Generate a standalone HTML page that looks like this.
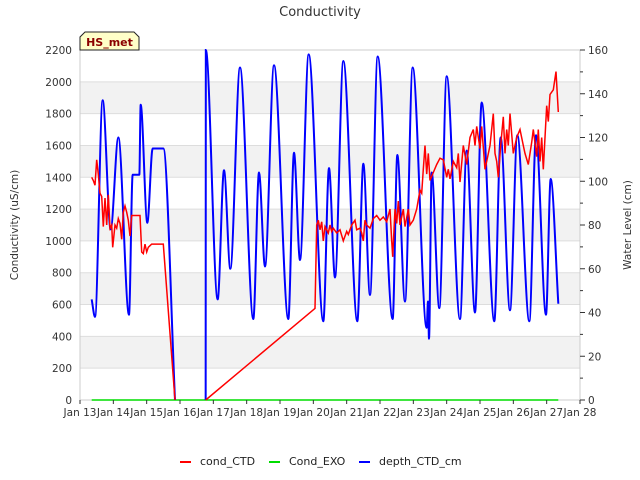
<!DOCTYPE html>
<html><head><meta charset="utf-8"><style>
body{margin:0;background:#fff;}
svg{display:block;font-family:"DejaVu Sans","Liberation Sans",sans-serif;}
</style></head><body>
<svg id="chart" width="640" height="480" viewBox="0 0 640 480">
<rect width="640" height="480" fill="#fff"/>
<g id="bands"></g><g id="grid"></g>
<rect x="80" y="50" width="500" height="350" fill="none" stroke="#ccc"/>
<g id="series"></g><g id="axes"></g>
<text x="320" y="16" text-anchor="middle" font-size="13" fill="#333">Conductivity</text>
<text transform="translate(18,225) rotate(-90)" text-anchor="middle" font-size="10.5" fill="#333">Conductivity (uS/cm)</text>
<text transform="translate(631,225) rotate(-90)" text-anchor="middle" font-size="10.5" fill="#333">Water Level (cm)</text>
<g>
<path d="M80,50 L80,37 L85,32 L134,32 L139,37 L139,50 Z" fill="#ffffc8" stroke="#222"/>
<text x="109.5" y="46" text-anchor="middle" font-size="11" font-weight="bold" fill="#8b0000">HS_met</text>
</g>
<g>
<g><line x1="180" y1="462" x2="191" y2="462" stroke="#f00" stroke-width="2"/><text x="200" y="465" font-size="11" fill="#222">cond_CTD</text></g>
<g><line x1="269" y1="462" x2="280" y2="462" stroke="#0d0" stroke-width="2"/><text x="289" y="465" font-size="11" fill="#222">Cond_EXO</text></g>
<g><line x1="359" y1="462" x2="370" y2="462" stroke="#00f" stroke-width="2"/><text x="379" y="465" font-size="11" fill="#222">depth_CTD_cm</text></g>
</g>
</svg>
<script>
const xTickLabels=["Jan 13","Jan 14","Jan 15","Jan 16","Jan 17","Jan 18","Jan 19","Jan 20","Jan 21","Jan 22","Jan 23","Jan 24","Jan 25","Jan 26","Jan 27","Jan 28"];
const leftTicks=[0,200,400,600,800,1000,1200,1400,1600,1800,2000,2200];
const rightTicks=[0,20,40,60,80,100,120,140,160];
const condDays=[0.35,0.4,0.45,0.5,0.55,0.6,0.65,0.7,0.75,0.8,0.85,0.9,0.95,0.98,1.05,1.1,1.15,1.2,1.25,1.3,1.35,1.4,1.45,1.5,1.55,1.8,1.85,1.9,1.95,2.0,2.05,2.1,2.15,2.5,2.85,3.77,7.05,7.1,7.15,7.2,7.25,7.3,7.35,7.45,7.5,7.55,7.6,7.7,7.8,7.9,8.0,8.05,8.15,8.25,8.3,8.4,8.45,8.5,8.55,8.6,8.7,8.8,8.9,9.0,9.1,9.2,9.3,9.35,9.38,9.45,9.5,9.55,9.6,9.7,9.75,9.85,9.9,10.0,10.1,10.2,10.25,10.3,10.35,10.4,10.45,10.5,10.6,10.7,10.8,10.9,11.0,11.05,11.1,11.2,11.3,11.35,11.4,11.5,11.6,11.7,11.8,11.85,11.9,12.0,12.05,12.15,12.2,12.3,12.4,12.45,12.5,12.55,12.62,12.7,12.75,12.8,12.85,12.9,13.0,13.1,13.2,13.3,13.35,13.45,13.55,13.6,13.7,13.75,13.8,13.85,13.9,14.0,14.05,14.1,14.2,14.28,14.35];
const condValues=[1400,1380,1350,1510,1420,1300,1280,1090,1270,1100,1290,1080,1100,960,1100,1080,1140,1110,1010,1180,1220,1180,1130,1030,1160,1160,930,920,980,930,960,970,980,980,0,0,576,1100,1130,1070,1120,1000,1090,1050,1100,1060,1080,1050,1070,1000,1060,1040,1100,1130,1070,1080,1050,1000,1130,1100,1080,1140,1160,1130,1150,1120,1200,1000,900,1200,1110,1250,1100,1200,1090,1200,1100,1130,1200,1320,1300,1450,1600,1420,1550,1380,1430,1480,1520,1510,1400,1450,1390,1500,1460,1550,1370,1600,1480,1650,1700,1600,1720,1580,1720,1450,1500,1600,1800,1550,1500,1400,1600,1780,1550,1700,1600,1800,1550,1650,1700,1600,1550,1480,1620,1700,1530,1700,1500,1650,1450,1850,1750,1920,1950,2064,1810];
const exoDays=[0.35,14.35];
const exoValues=[0,0];
const depthDays=[0.35,0.45,0.68,0.92,1.15,1.47,1.58,1.78,1.82,2.02,2.18,2.5,2.85,3.77,3.775,4.13,4.32,4.51,4.8,5.2,5.37,5.55,5.82,6.25,6.42,6.6,6.86,7.3,7.47,7.65,7.9,8.32,8.5,8.7,8.93,9.38,9.52,9.75,9.98,10.4,10.44,10.47,10.55,10.78,11.0,11.4,11.6,11.85,12.05,12.43,12.62,12.9,13.12,13.48,13.68,13.98,14.12,14.35];
const depthValues=[46,38,137,78,120,39,103,103,135,81,115,115,0,0,160,46,105,60,152,37,104,61,153,37,113,64,158,36,106,56,155,36,108,48,157,37,112,45,152,33,45,28,104,42,148,37,114,40,136,36,120,41,121,36,121,39,101,44];

const NS="http://www.w3.org/2000/svg";
const X0=80,X1=580,Y0=400,Y1=50;
const xs=d=>X0+d*(X1-X0)/15;
const yL=v=>Y0-v*(Y0-Y1)/2200;
const yR=v=>Y0-v*(Y0-Y1)/160;
function mk(tag,attrs,parent){const e=document.createElementNS(NS,tag);for(const k in attrs)e.setAttribute(k,attrs[k]);parent.appendChild(e);return e;}
const bands=document.getElementById('bands'),grid=document.getElementById('grid'),axes=document.getElementById('axes'),series=document.getElementById('series');
for(let i=0;i<leftTicks.length-1;i++){
  if(i%2===1){const r=mk('rect',{x:X0,y:yL(leftTicks[i+1]),width:X1-X0,height:yL(leftTicks[i])-yL(leftTicks[i+1]),fill:'#f2f2f2'},bands);
  
  }
}
leftTicks.forEach(v=>{
  const l=mk('line',{x1:X0,x2:X1,y1:yL(v),y2:yL(v),stroke:'#ddd'},grid);
  
  
  const t=mk('text',{x:X0-8,y:yL(v)+4,'text-anchor':'end','font-size':'10.5',fill:'#333'},axes);t.textContent=v;
  
  
});
rightTicks.forEach((v,i)=>{
  mk('line',{x1:X1,x2:X1+5,y1:yR(v),y2:yR(v),stroke:'#333'},axes);
  if(i<rightTicks.length-1)mk('line',{x1:X1,x2:X1+3,y1:yR((v+rightTicks[i+1])/2),y2:yR((v+rightTicks[i+1])/2),stroke:'#333'},axes);
  const t=mk('text',{x:X1+8,y:yR(v)+4,'font-size':'10.5',fill:'#333'},axes);t.textContent=v;
  
  
});
xTickLabels.forEach((s,i)=>{
  mk('line',{x1:xs(i),x2:xs(i),y1:Y0,y2:Y0+4,stroke:'#333'},axes);
  const t=mk('text',{x:xs(i),y:Y0+16,'text-anchor':'middle','font-size':'10.5',fill:'#333'},axes);t.textContent=s;
  
  
});
// split series where two consecutive zero values (data gap)
function segments(days,vals){const segs=[];let cur={d:[days[0]],v:[vals[0]]};
  for(let i=1;i<days.length;i++){
    if(vals[i]===0&&vals[i-1]===0){segs.push(cur);cur={d:[days[i]],v:[vals[i]]};}
    else{cur.d.push(days[i]);cur.v.push(vals[i]);}
  }segs.push(cur);return segs;}
function polyD(days,vals,yf){return 'M'+days.map((d,i)=>xs(d).toFixed(1)+','+yf(vals[i]).toFixed(1)).join(' L');}
function monotone(days,vals,yf){
  const px=days.map(xs),py=vals.map(yf),n=px.length;
  if(n<2)return '';
  const m=new Array(n).fill(0),s=[];
  for(let i=0;i<n-1;i++)s.push((py[i+1]-py[i])/Math.max(px[i+1]-px[i],1e-6));
  m[0]=s[0];m[n-1]=s[n-2];
  for(let i=1;i<n-1;i++){m[i]=(s[i-1]*s[i]<=0)?0:(s[i-1]+s[i])/2;}
  let d='M'+px[0]+','+py[0];
  for(let i=0;i<n-1;i++){const h=(px[i+1]-px[i])/3;
    d+=' C'+(px[i]+h).toFixed(2)+','+(py[i]+m[i]*h).toFixed(2)+' '+(px[i+1]-h).toFixed(2)+','+(py[i+1]-m[i+1]*h).toFixed(2)+' '+px[i+1].toFixed(2)+','+py[i+1].toFixed(2);}
  return d;
}
const g=mk('path',{d:polyD(exoDays,exoValues,yL),fill:'none',stroke:'#0d0','stroke-width':1.5},series);


const b=mk('path',{d:segments(depthDays,depthValues).map(s=>monotone(s.d,s.v,yR)).join(' '),fill:'none',stroke:'#00f','stroke-width':2},series);


const r=mk('path',{d:segments(condDays,condValues).map(s=>polyD(s.d,s.v,yL)).join(' '),fill:'none',stroke:'#f00','stroke-width':1.5},series);


</script>
</body></html>
